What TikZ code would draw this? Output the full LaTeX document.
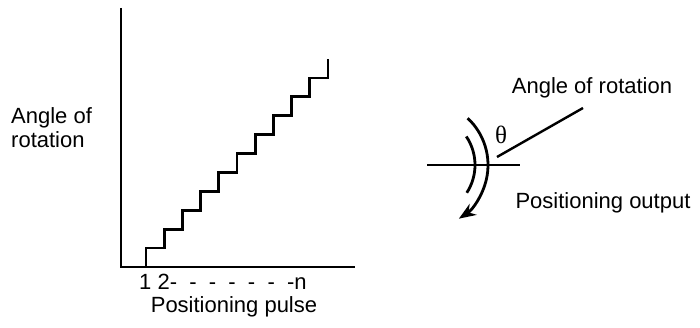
\documentclass[tikz,border=0pt]{standalone}
\usepackage{fontspec}
\setmainfont{Liberation Sans}
\newfontfamily\thetafont{Liberation Serif}
\usetikzlibrary{positioning,arrows.meta,calc}

\begin{document}
\begin{tikzpicture}[
  x=1pt,y=1pt,
  font=\fontsize{22}{24}\selectfont,
  axis/.style={line width=2.6pt},
  stair/.style={line width=2.8pt,line cap=butt,line join=miter},
  thin/.style={line width=2.4pt},
  turn/.style={line width=2.8pt,-{Stealth[length=17pt,width=13pt]}},
  lbl/.style={inner sep=0pt}
]
\useasboundingbox (0,0) rectangle (700,328);

% ---- step response ----
\coordinate (o) at (121,61);
\coordinate (ytop) at (121,320);
\coordinate (xend) at (355,61);
\draw[axis] (ytop) -- (o) -- (xend);

\coordinate (s0) at (146,61);
\draw[stair] (s0)
  \foreach \i in {1,...,10} { -- ++(0,18.9) -- ++(18.2,0) } -- ++(0,18.9);

\node[lbl,anchor=west] (ticks) at (139,46) {1 2-\ \ -\ \ -\ \ -\ \ -\ \ -\ \ -n};
\node[lbl,anchor=north] (xlab) at (234,32) {Positioning pulse};
\node[lbl,anchor=west,align=left] (ylab) at (11,200) {Angle of\\rotation};

% ---- rotation sketch ----
\coordinate (ctr) at (424,163);
\coordinate (hl) at (427,163);
\coordinate (hr) at (520,163);
\draw[thin] (hl) -- (hr);
\draw[turn] ($(ctr)+(47:64)$) arc[start angle=47,end angle=-57,radius=64];
\draw[stair] ($(ctr)+(34:51)$) arc[start angle=34,end angle=-33,radius=51];

\node[lbl,font=\thetafont\fontsize{25}{28}\selectfont] (th) at (501,193) {θ};
\coordinate (pa) at (497,171);
\coordinate (pb) at (583,220);
\draw[thin] (pa) -- (pb);
\node[lbl] (rot) at (592,240) {Angle of rotation};
\node[lbl] (out) at (603,125) {Positioning output};
\end{tikzpicture}
\end{document}
